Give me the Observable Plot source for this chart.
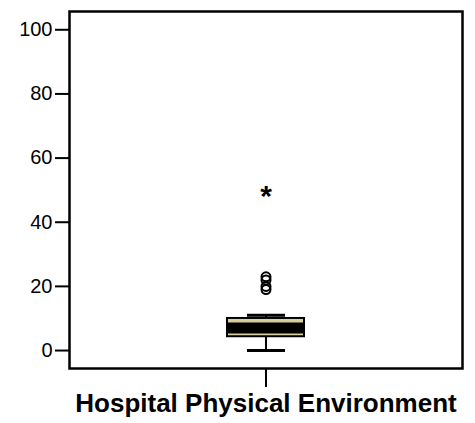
<!DOCTYPE html>
<html>
<head>
<meta charset="utf-8">
<script src="https://cdn.jsdelivr.net/npm/d3@7"></script>
<script src="https://cdn.jsdelivr.net/npm/@observablehq/plot@0.6"></script>
<style>
  html, body { margin: 0; padding: 0; background: #fff; }
  svg { display: block; }
</style>
</head>
<body>
<div id="chart"></div>
<script>
const categories = ["Hospital Physical Environment"];
const q1 = [4.3];
const median = [7.0];
const q3 = [10.0];
const whiskerLow = [0];
const whiskerHigh = [11];
const outliers = [19, 20, 22, 23];
const extremes = [50];
const yTicks = [0, 20, 40, 60, 80, 100];

const boxes = categories.map((c, i) => ({cat: c, q1: q1[i], median: median[i], q3: q3[i], lo: whiskerLow[i], hi: whiskerHigh[i]}));
const outlierData = outliers.map(v => ({cat: categories[0], v}));
const extremeData = extremes.map(v => ({cat: categories[0], v}));

const chart = Plot.plot({
  width: 475,
  height: 423,
  marginLeft: 69,
  marginRight: 13,
  marginTop: 11,
  marginBottom: 55,
  style: {fontFamily: "'Liberation Sans', Arial, sans-serif", background: "#fff", color: "#000"},
  x: {type: "band", domain: categories, padding: 0.672},
  y: {domain: [-5.6, 105.7]},
  marks: [
    Plot.frame({stroke: "#000", strokeWidth: 2.5}),
    Plot.axisY({ticks: yTicks, tickSize: 14, tickPadding: 3, fontSize: 20, strokeWidth: 2, label: null}),
    Plot.axisX({tickSize: 19, tickPadding: 6, fontSize: 26, fontWeight: "bold", strokeWidth: 2, label: null}),
    Plot.ruleX(boxes, {x: "cat", y1: "q3", y2: "hi", stroke: "#000", strokeWidth: 2}),
    Plot.ruleX(boxes, {x: "cat", y1: "lo", y2: "q1", stroke: "#000", strokeWidth: 2}),
    Plot.tickY(boxes, {x: "cat", y: "hi", stroke: "#000", strokeWidth: 3, insetLeft: 20, insetRight: 19}),
    Plot.tickY(boxes, {x: "cat", y: "lo", stroke: "#000", strokeWidth: 3, insetLeft: 20, insetRight: 19}),
    Plot.barY(boxes, {x: "cat", y1: "q1", y2: "q3", fill: "#d6cf9f", stroke: "#000", strokeWidth: 2}),
    Plot.tickY(boxes, {x: "cat", y: "median", stroke: "#000", strokeWidth: 11, insetLeft: 1, insetRight: 1}),
    Plot.dot(outlierData, {x: "cat", y: "v", r: 4.5, stroke: "#000", strokeWidth: 2, fill: "none"}),
    Plot.text(extremeData, {x: "cat", y: "v", text: () => "*", fontSize: 30, fontWeight: "bold", dy: 6, fill: "#000"})
  ]
});
document.getElementById("chart").appendChild(chart);
</script>
</body>
</html>
